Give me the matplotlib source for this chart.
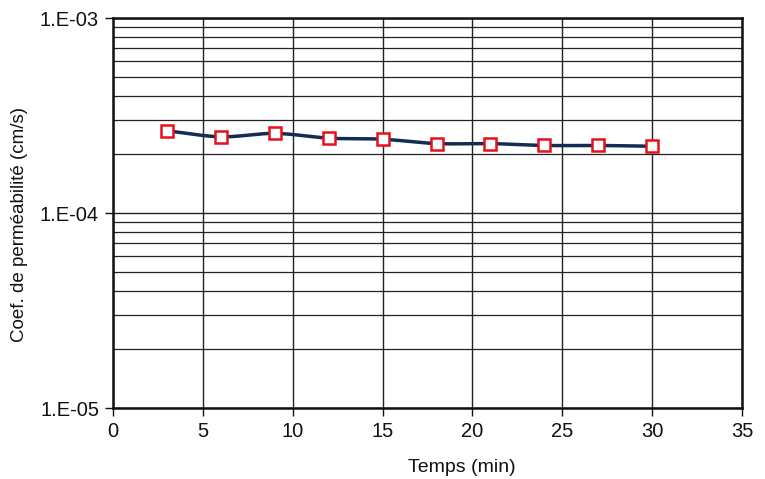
import numpy as np
import matplotlib
matplotlib.use('Agg')
import matplotlib.pyplot as plt
from matplotlib.ticker import FixedLocator, FuncFormatter, LogLocator, NullFormatter

plt.rcParams['font.family'] = ['Liberation Sans', 'DejaVu Sans']

temps = [3, 6, 9, 12, 15, 18, 21, 24, 27, 30]
coef_k = [2.64e-4, 2.46e-4, 2.56e-4, 2.42e-4, 2.39e-4,
          2.27e-4, 2.27e-4, 2.22e-4, 2.22e-4, 2.20e-4]
x_ticks = [0, 5, 10, 15, 20, 25, 30, 35]


def smooth(x, y, n=20):
    # catmull-rom through the points, in log space (like excel's smoothed line)
    x = np.asarray(x, float)
    y = np.log10(np.asarray(y, float))
    px = np.concatenate([[2 * x[0] - x[1]], x, [2 * x[-1] - x[-2]]])
    py = np.concatenate([[2 * y[0] - y[1]], y, [2 * y[-1] - y[-2]]])
    xs, ys = [], []
    for i in range(1, len(px) - 2):
        t = np.linspace(0, 1, n, endpoint=False)
        for p, out in ((px, xs), (py, ys)):
            p0, p1, p2, p3 = p[i - 1], p[i], p[i + 1], p[i + 2]
            out.extend(0.5 * ((2 * p1) + (-p0 + p2) * t
                              + (2 * p0 - 5 * p1 + 4 * p2 - p3) * t ** 2
                              + (-p0 + 3 * p1 - 3 * p2 + p3) * t ** 3))
    xs.append(x[-1])
    ys.append(y[-1])
    return np.array(xs), 10 ** np.array(ys)


fig = plt.figure(figsize=(7.65, 4.79), dpi=100)
ax = fig.add_axes([0.1477, 0.1482, 0.8223, 0.8142])

ax.set_yscale('log')
ax.set_xlim(0, 35)
ax.set_ylim(1e-5, 1e-3)

ax.yaxis.set_major_locator(FixedLocator([1e-5, 1e-4, 1e-3]))
ax.yaxis.set_major_formatter(FuncFormatter(lambda v, p: '1.E%+03d' % round(np.log10(v))))
ax.yaxis.set_minor_locator(LogLocator(base=10, subs=np.arange(2, 10)))
ax.yaxis.set_minor_formatter(NullFormatter())
ax.xaxis.set_major_locator(FixedLocator(x_ticks))

ax.grid(True, which='major', color='#222222', linewidth=1.0)
ax.grid(True, which='minor', axis='y', color='#222222', linewidth=0.9)
ax.set_axisbelow(True)

ax.tick_params(axis='both', which='major', direction='out', length=6, width=1,
               labelsize=14.5, colors='#111111', pad=4)
ax.tick_params(axis='y', which='minor', length=0)
for s in ax.spines.values():
    s.set_linewidth(1.8)
    s.set_color('#111111')

sx, sy = smooth(temps, coef_k)
ax.plot(sx, sy, color='#142b52', linewidth=2.5, zorder=3)
ax.plot(temps, coef_k, linestyle='none', marker='s', markersize=8.5,
        markerfacecolor='white', markeredgecolor='#e8101c', markeredgewidth=1.8, zorder=4)

fig.text(462 / 765, 1 - 468 / 479, 'Temps (min)', fontsize=14, ha='center', va='center',
         color='#111111')
fig.text(20 / 765, 1 - 225 / 479, 'Coef. de perméabilité (cm/s)', fontsize=13.5,
         rotation=90, ha='center', va='center', color='#111111')

fig.savefig('out.png', dpi=100)
